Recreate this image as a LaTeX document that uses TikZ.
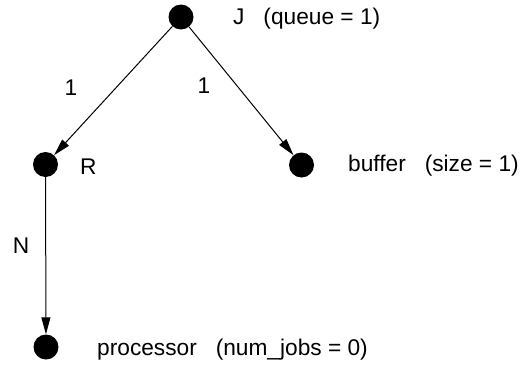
\documentclass[tikz,border=0pt]{standalone}
\usepackage{fontspec}
\setmainfont{Liberation Sans}
\usetikzlibrary{arrows.meta}
\begin{document}
\begin{tikzpicture}[x=1pt,y=-1pt,
  dot/.style={circle,fill=black,inner sep=0pt,minimum size=25pt},
  lbl/.style={anchor=west,inner sep=0pt,font=\fontsize{22.7}{27}\selectfont},
  elbl/.style={inner sep=0pt,font=\fontsize{22.7}{27}\selectfont},
  edge/.style={line width=1pt,-{Triangle[length=17pt,width=9pt]}}]
\useasboundingbox (0,0) rectangle (527,364);
\node[dot] (J) at (181,17) {};
\node[dot] (R) at (45.5,164.5) {};
\node[dot] (B) at (301.5,165) {};
\node[dot] (P) at (46,347) {};
\node[lbl] (tJ) at (233,19) {J~~~(queue = 1)};
\node[lbl] (tR) at (80,167) {R};
\node[lbl] (tB) at (348,166) {buffer~~~(size = 1)};
\node[lbl] (tP) at (97,350) {processor~~~(num\_jobs = 0)};
\draw[edge] (J) -- (R);
\draw[edge] (J) -- (B);
\draw[edge] (R) -- (P);
\node[elbl] (l1) at (71,88) {1};
\node[elbl] (l2) at (204,86) {1};
\node[elbl] (lN) at (21,246) {N};
\end{tikzpicture}
\end{document}
